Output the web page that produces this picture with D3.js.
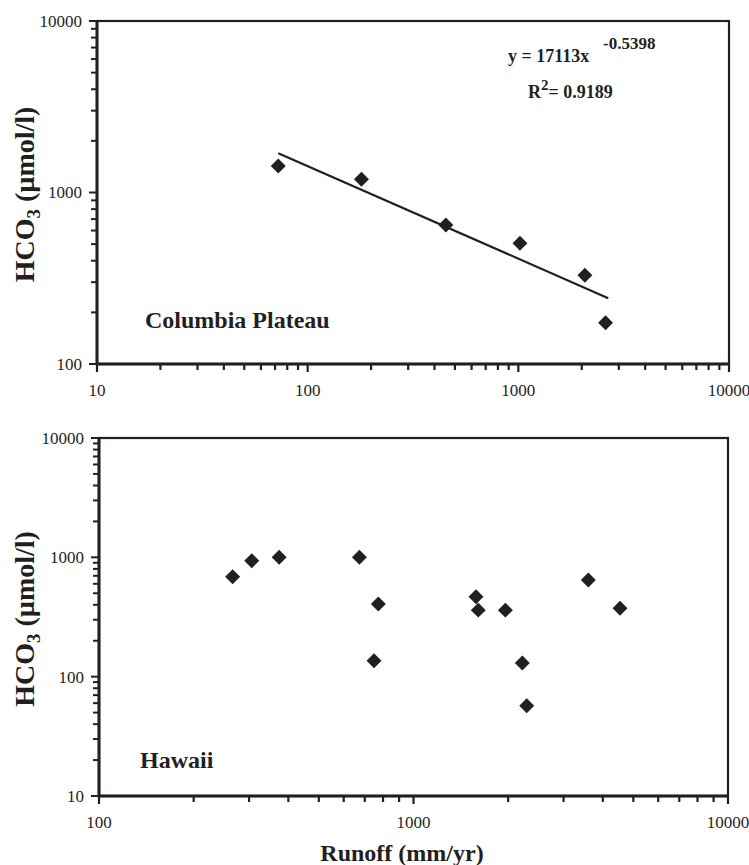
<!DOCTYPE html>
<html>
<head>
<meta charset="utf-8">
<script src="https://cdn.jsdelivr.net/npm/d3@7"></script>
<style>
  body { margin: 0; background: #fff; }
  svg { display: block; }
</style>
</head>
<body>
<div id="viz-container"></div>
<script>
// Columbia Plateau: runoff (mm/yr) vs HCO3 (umol/l)
let cpRunoff = [72.5, 180, 453, 1018, 2070, 2594];
let cpHco3 = [1427, 1194, 646, 506, 329, 174];
// power fit shown on chart
let fitA = 17113;
let fitB = -0.5398;
let fitR2 = 0.9189;

// Hawaii
let hiRunoff = [266, 306, 374, 673, 773, 749, 1580, 1607, 1959, 2218, 2291, 3596, 4536];
let hiHco3 = [687, 936, 1000, 1000, 406, 136, 468, 361, 361, 130, 57, 646, 374];

let topXTicks = [10, 100, 1000, 10000];
let topYTicks = [100, 1000, 10000];
let botXTicks = [100, 1000, 10000];
let botYTicks = [10, 100, 1000, 10000];

let width = 749;
let height = 865;
let ink = '#231f20';
let serif = "'Liberation Serif','Times New Roman',serif";

let viz = d3.select('#viz-container')
  .append('svg')
  .attr('width', width)
  .attr('height', height);

// log ticks: 1 is major, 2..9 minor
function logTicks(lo, hi){
  let out = [];
  for(let d = lo; d < hi; d *= 10){
    for(let m = 1; m < 10; m++){
      out.push({v: d*m, major: m == 1});
    }
  }
  out.push({v: hi, major: true});
  return out;
}

function drawPanel(p){
  let x = d3.scaleLog().domain(p.xDomain).range([p.left, p.right]);
  let y = d3.scaleLog().domain(p.yDomain).range([p.bottom, p.top]);
  let g = viz.append('g');

  // frame
  g.append('rect')
    .attr('x', p.left).attr('y', p.top)
    .attr('width', p.right - p.left).attr('height', p.bottom - p.top)
    .attr('fill', 'none').attr('stroke', ink).attr('stroke-width', 2.2);

  // ticks x
  g.selectAll('.xt').data(logTicks(p.xDomain[0], p.xDomain[1])).enter()
    .append('line')
    .attr('x1', d => x(d.v)).attr('x2', d => x(d.v))
    .attr('y1', p.bottom).attr('y2', d => p.bottom + (d.major ? 8 : 6))
    .attr('stroke', ink).attr('stroke-width', 2.2);

  // ticks y
  g.selectAll('.yt').data(logTicks(p.yDomain[0], p.yDomain[1])).enter()
    .append('line')
    .attr('y1', d => y(d.v)).attr('y2', d => y(d.v))
    .attr('x1', p.left).attr('x2', d => p.left - (d.major ? 8 : 6))
    .attr('stroke', ink).attr('stroke-width', 2);

  // axis lines, a bit heavier
  g.append('line')
    .attr('x1', p.left).attr('x2', p.right)
    .attr('y1', p.bottom).attr('y2', p.bottom)
    .attr('stroke', ink).attr('stroke-width', 3);
  g.append('line')
    .attr('x1', p.left).attr('x2', p.left)
    .attr('y1', p.top).attr('y2', p.bottom)
    .attr('stroke', ink).attr('stroke-width', 3);

  // tick labels
  g.selectAll('.xl').data(p.xTicks).enter()
    .append('text')
    .text(d => d)
    .attr('x', d => x(d))
    .attr('y', p.bottom + 32)
    .attr('text-anchor', 'middle')
    .attr('font-family', serif).attr('font-size', 17).attr('fill', ink);

  g.selectAll('.yl').data(p.yTicks).enter()
    .append('text')
    .text(d => d)
    .attr('x', p.left - 15)
    .attr('y', d => y(d))
    .attr('dy', '0.35em')
    .attr('text-anchor', 'end')
    .attr('font-family', serif).attr('font-size', 17).attr('fill', ink);

  // y axis title
  let yt = g.append('text')
    .attr('transform', 'translate(34,' + ((p.top + p.bottom)/2 + 2) + ') rotate(-90)')
    .attr('text-anchor', 'middle')
    .attr('font-family', serif).attr('font-size', 28).attr('font-weight', 'bold').attr('fill', ink);
  yt.append('tspan').text('HCO');
  yt.append('tspan').text('3').attr('font-size', 19).attr('dy', 6);
  yt.append('tspan').text(' (µmol/l)').attr('dy', -6);

  // region name
  g.append('text')
    .text(p.name)
    .attr('x', p.nameX).attr('y', p.nameY)
    .attr('font-family', serif).attr('font-size', 24).attr('font-weight', 'bold').attr('fill', ink);

  // points
  let pts = p.xs.map((v, i) => ({x: v, y: p.ys[i]}));
  g.selectAll('.pt').data(pts).enter()
    .append('path')
    .attr('d', d3.symbol(d3.symbolSquare).size(112))
    .attr('transform', d => 'translate(' + x(d.x) + ',' + y(d.y) + ') rotate(45)')
    .attr('fill', ink);

  return {x: x, y: y, g: g};
}

let topPanel = drawPanel({
  left: 97, right: 729, top: 21, bottom: 364,
  xDomain: [10, 10000], yDomain: [100, 10000],
  xTicks: topXTicks, yTicks: topYTicks,
  xs: cpRunoff, ys: cpHco3,
  name: 'Columbia Plateau', nameX: 145, nameY: 328
});

// trend line over the range of the data
let xMin = d3.min(cpRunoff);
let xMax = d3.max(cpRunoff) * 1.03;
let fitLine = d3.line()
  .x(d => topPanel.x(d))
  .y(d => topPanel.y(fitA * Math.pow(d, fitB)));
topPanel.g.append('path')
  .datum([xMin, xMax])
  .attr('d', fitLine)
  .attr('fill', 'none')
  .attr('stroke', ink)
  .attr('stroke-width', 2.2);

let eq = topPanel.g.append('text')
  .attr('x', 508).attr('y', 62)
  .attr('font-family', serif).attr('font-size', 18).attr('font-weight', 'bold').attr('fill', ink);
eq.append('tspan').text('y = ' + fitA + 'x');
eq.append('tspan').text(fitB.toFixed(4)).attr('x', 603).attr('dy', -13).attr('font-size', 17);

let r2 = topPanel.g.append('text')
  .attr('x', 528).attr('y', 98)
  .attr('font-family', serif).attr('font-size', 18).attr('font-weight', 'bold').attr('fill', ink);
r2.append('tspan').text('R');
r2.append('tspan').text('2').attr('dy', -8).attr('font-size', 15);
r2.append('tspan').text('= ' + fitR2).attr('dy', 8);

let botPanel = drawPanel({
  left: 99, right: 728, top: 438, bottom: 796,
  xDomain: [100, 10000], yDomain: [10, 10000],
  xTicks: botXTicks, yTicks: botYTicks,
  xs: hiRunoff, ys: hiHco3,
  name: 'Hawaii', nameX: 140, nameY: 768
});

viz.append('text')
  .text('Runoff (mm/yr)')
  .attr('x', 402).attr('y', 861)
  .attr('text-anchor', 'middle')
  .attr('font-family', serif).attr('font-size', 24).attr('font-weight', 'bold').attr('fill', ink);
</script>
</body>
</html>
